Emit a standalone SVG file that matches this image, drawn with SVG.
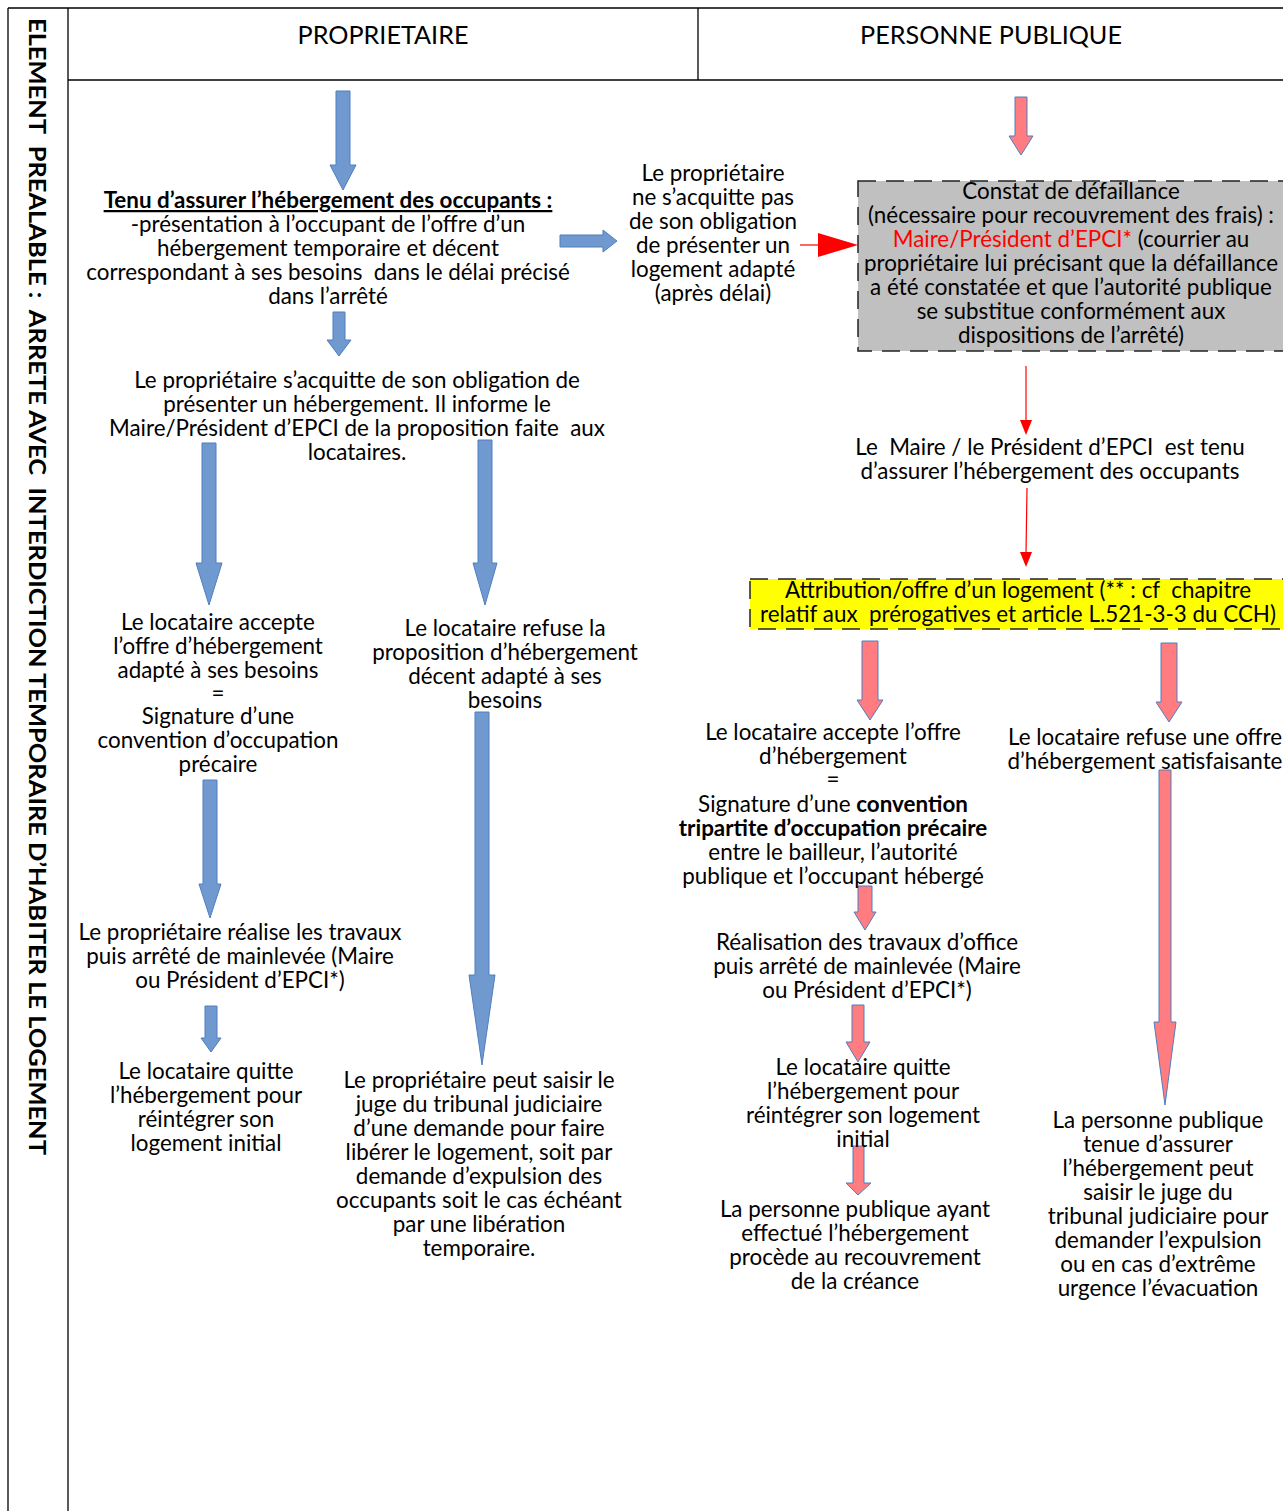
<svg xmlns="http://www.w3.org/2000/svg" width="1283" height="1511" viewBox="0 0 1283 1511" xml:space="preserve">
<style>
text{font-family:Lato,"Liberation Sans",sans-serif;font-size:22.4px;fill:#000;text-anchor:middle;white-space:pre}
.h{font-size:25.2px}
.v{font-weight:bold;font-size:23px;text-anchor:start}
.b{font-weight:bold}
.red{fill:#ff0000}
.grid{stroke:#000;stroke-width:1.3;fill:none}
.blue{fill:#7099d0;stroke:#4f7fbf;stroke-width:1}
.pink{fill:#ff7c80;stroke:#4f7fbf;stroke-width:1}
.rl{stroke:#ff0000;stroke-width:1.2;fill:none}
.rh{fill:#ff0000}
.box{stroke:#222;stroke-width:1.5;stroke-dasharray:18 10}
</style>
<rect width="1283" height="1511" fill="#fff"/>
<g id="table" class="grid">
<line x1="8" y1="8" x2="1283" y2="8"/>
<line x1="8" y1="8" x2="8" y2="1511"/>
<line x1="68" y1="8" x2="68" y2="1511"/>
<line x1="68" y1="80" x2="1283" y2="80"/>
<line x1="698" y1="8" x2="698" y2="80"/>
</g>
<g id="headers">
<text class="h" x="383" y="44">PROPRIETAIRE</text>
<text class="h" x="991" y="44">PERSONNE PUBLIQUE</text>
<text class="v" transform="translate(29,18) rotate(90)" textLength="1137" lengthAdjust="spacingAndGlyphs">ELEMENT  PREALABLE :  ARRETE AVEC  INTERDICTION TEMPORAIRE D’HABITER LE LOGEMENT</text>
</g>
<g id="connectors">
<polygon class="blue" points="336,91 350,91 350,165 356,165 343,190 330,165 336,165"/>
<polygon class="blue" points="560,235 603,235 603,230 617,241 603,252 603,247 560,247"/>
<polygon class="blue" points="333,312 345,312 345,340 351,340 339,356 327,340 333,340"/>
<polygon class="blue" points="202,443 216,443 216,563 222,563 209,605 196,563 202,563"/>
<polygon class="blue" points="478,440 492,440 492,563 497,563 485,605 473,563 478,563"/>
<polygon class="blue" points="203,780 217,780 217,884 221,884 210,918 199,884 203,884"/>
<polygon class="blue" points="205,1006 217,1006 217,1038 221,1038 211,1052 201,1038 205,1038"/>
<polygon class="blue" points="475,712 489,712 489,975 495,975 482,1065 469,975 475,975"/>
<line class="rl" x1="800" y1="245" x2="822" y2="245"/>
<polygon class="rh" points="818,233 858,245 818,257"/>
<line class="rl" x1="1026" y1="366" x2="1026" y2="422"/>
<polygon class="rh" points="1020,420 1032,420 1026,435"/>
<line class="rl" x1="1027" y1="488" x2="1026" y2="554"/>
<polygon class="rh" points="1020,552 1032,552 1026,567"/>
<polygon class="pink" points="1015,97 1027,97 1027,136 1033,136 1021,155 1009,136 1015,136"/>
<polygon class="pink" points="862,641 878,641 878,700 883,700 870,720 857,700 862,700"/>
<polygon class="pink" points="1161,643 1177,643 1177,702 1182,702 1169,722 1156,702 1161,702"/>
<polygon class="pink" points="1159,770 1171,770 1171,1022 1176,1022 1165,1105 1154,1022 1159,1022"/>
<polygon class="pink" points="858,886 872,886 872,912 876,912 865,930 854,912 858,912"/>
<polygon class="pink" points="852,1005 864,1005 864,1042 870,1042 858,1062 846,1042 852,1042"/>
<polygon class="pink" points="853,1146 864,1146 864,1183 871,1183 858,1195 846,1183 853,1183"/>
</g>
<g id="n-tenu">
<text class="b" x="328" y="208" text-decoration="underline">Tenu d’assurer l’hébergement des occupants :</text>
<text x="328" y="232">-présentation à l’occupant de l’offre d’un</text>
<text x="328" y="256">hébergement temporaire et décent</text>
<text x="328" y="280">correspondant à ses besoins  dans le délai précisé</text>
<text x="328" y="304">dans l’arrêté</text>
</g>
<g id="n-acquitte">
<text x="357" y="388">Le propriétaire s’acquitte de son obligation de</text>
<text x="357" y="412">présenter un hébergement. Il informe le</text>
<text x="357" y="436">Maire/Président d’EPCI de la proposition faite  aux</text>
<text x="357" y="460">locataires.</text>
</g>
<g id="n-accepte">
<text x="218" y="630">Le locataire accepte</text>
<text x="218" y="654">l’offre d’hébergement</text>
<text x="218" y="678">adapté à ses besoins</text>
<text x="218" y="701">=</text>
<text x="218" y="724">Signature d’une</text>
<text x="218" y="748">convention d’occupation</text>
<text x="218" y="772">précaire</text>
</g>
<g id="n-travaux">
<text x="240" y="940">Le propriétaire réalise les travaux</text>
<text x="240" y="964">puis arrêté de mainlevée (Maire</text>
<text x="240" y="988">ou Président d’EPCI*)</text>
</g>
<g id="n-quitte">
<text x="206" y="1079">Le locataire quitte</text>
<text x="206" y="1103">l’hébergement pour</text>
<text x="206" y="1127">réintégrer son</text>
<text x="206" y="1151">logement initial</text>
</g>
<g id="n-refuse">
<text x="505" y="636">Le locataire refuse la</text>
<text x="505" y="660">proposition d’hébergement</text>
<text x="505" y="684">décent adapté à ses</text>
<text x="505" y="708">besoins</text>
</g>
<g id="n-saisir">
<text x="479" y="1088">Le propriétaire peut saisir le</text>
<text x="479" y="1112">juge du tribunal judiciaire</text>
<text x="479" y="1136">d’une demande pour faire</text>
<text x="479" y="1160">libérer le logement, soit par</text>
<text x="479" y="1184">demande d’expulsion des</text>
<text x="479" y="1208">occupants soit le cas échéant</text>
<text x="479" y="1232">par une libération</text>
<text x="479" y="1256">temporaire.</text>
</g>
<g id="n-nacquitte">
<text x="713" y="181">Le propriétaire</text>
<text x="713" y="205">ne s’acquitte pas</text>
<text x="713" y="229">de son obligation</text>
<text x="713" y="253">de présenter un</text>
<text x="713" y="277">logement adapté</text>
<text x="713" y="301">(après délai)</text>
</g>
<g id="n-constat">
<rect class="box" x="858" y="181" width="426" height="170" fill="#c0c0c0"/>
<text x="1071" y="199">Constat de défaillance</text>
<text x="1071" y="223">(nécessaire pour recouvrement des frais) :</text>
<text x="1071" y="247"><tspan class="red">Maire/Président d’EPCI*</tspan> (courrier au</text>
<text x="1071" y="271">propriétaire lui précisant que la défaillance</text>
<text x="1071" y="295">a été constatée et que l’autorité publique</text>
<text x="1071" y="319">se substitue conformément aux</text>
<text x="1071" y="343">dispositions de l’arrêté)</text>
</g>
<g id="n-maire">
<text x="1050" y="455">Le  Maire / le Président d’EPCI  est tenu</text>
<text x="1050" y="479">d’assurer l’hébergement des occupants</text>
</g>
<g id="n-attribution">
<rect class="box" x="750" y="579" width="534" height="50" fill="#ffff00"/>
<text x="1018" y="598">Attribution/offre d’un logement (** : cf  chapitre</text>
<text x="1018" y="622">relatif aux  prérogatives et article L.521-3-3 du CCH)</text>
</g>
<g id="n-pp-accepte">
<text x="833" y="740">Le locataire accepte l’offre</text>
<text x="833" y="764">d’hébergement</text>
<text x="833" y="787">=</text>
<text x="833" y="812">Signature d’une <tspan class="b">convention</tspan></text>
<text class="b" x="833" y="836">tripartite d’occupation précaire</text>
<text x="833" y="860">entre le bailleur, l’autorité</text>
<text x="833" y="884">publique et l’occupant hébergé</text>
</g>
<g id="n-pp-refuse">
<text x="1145" y="745">Le locataire refuse une offre</text>
<text x="1145" y="769">d’hébergement satisfaisante</text>
</g>
<g id="n-pp-travaux">
<text x="867" y="950">Réalisation des travaux d’office</text>
<text x="867" y="974">puis arrêté de mainlevée (Maire</text>
<text x="867" y="998">ou Président d’EPCI*)</text>
</g>
<g id="n-pp-quitte">
<text x="863" y="1075">Le locataire quitte</text>
<text x="863" y="1099">l’hébergement pour</text>
<text x="863" y="1123">réintégrer son logement</text>
<text x="863" y="1147">initial</text>
</g>
<g id="n-pp-recouvrement">
<text x="855" y="1217">La personne publique ayant</text>
<text x="855" y="1241">effectué l’hébergement</text>
<text x="855" y="1265">procède au recouvrement</text>
<text x="855" y="1289">de la créance</text>
</g>
<g id="n-pp-juge">
<text x="1158" y="1128">La personne publique</text>
<text x="1158" y="1152">tenue d’assurer</text>
<text x="1158" y="1176">l’hébergement peut</text>
<text x="1158" y="1200">saisir le juge du</text>
<text x="1158" y="1224">tribunal judiciaire pour</text>
<text x="1158" y="1248">demander l’expulsion</text>
<text x="1158" y="1272">ou en cas d’extrême</text>
<text x="1158" y="1296">urgence l’évacuation</text>
</g>
</svg>
